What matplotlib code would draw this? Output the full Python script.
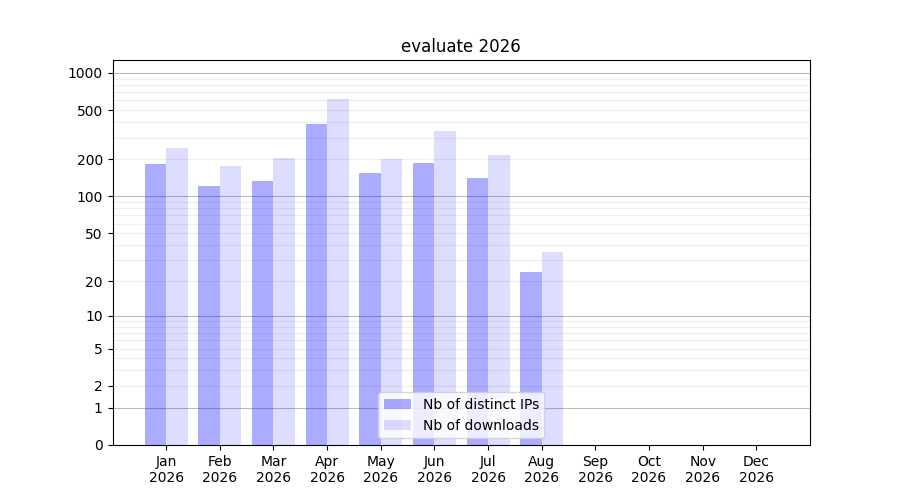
import numpy as np
import matplotlib
matplotlib.use("Agg")
import matplotlib.pyplot as plt

# Monthly stats
months = ["Jan", "Feb", "Mar", "Apr", "May", "Jun",
          "Jul", "Aug", "Sep", "Oct", "Nov", "Dec"]
year = 2026
distinct_ips = [184, 122, 134, 387, 155, 187, 141, 24, 0, 0, 0, 0]
downloads = [248, 177, 205, 616, 201, 340, 217, 35, 0, 0, 0, 0]

y_ticks = [0, 1, 2, 5, 10, 20, 50, 100, 200, 500, 1000]


# log10(1 + x) scale so that zero can be shown
def forward(v):
    return np.log10(1 + np.clip(v, 0, None))


def inverse(v):
    return 10 ** v - 1


fig, ax = plt.subplots(figsize=(9, 5), dpi=100)
ax.set_yscale("function", functions=(forward, inverse))

# grid lines: darker at decades, light for the others
for dec in [1, 10, 100, 1000]:
    ax.axhline(dec, color="#bbbbbb", lw=0.8, zorder=0)
    for m in range(2, 10):
        if dec * m < 1300:
            ax.axhline(dec * m, color="#eeeeee", lw=0.8, zorder=0)

x = np.arange(len(months))
ax.bar(x, distinct_ips, width=-0.4, align="edge", color="blue", alpha=0.33,
       label="Nb of distinct IPs", zorder=2)
ax.bar(x, downloads, width=0.4, align="edge", color="blue", alpha=0.135,
       label="Nb of downloads", zorder=2)

ax.set_xticks(x)
ax.set_xticklabels([f"{m}\n{year}" for m in months])
ax.set_xlim(-1, 12)

ax.set_yticks(y_ticks)
ax.set_yticklabels([str(t) for t in y_ticks])
ax.yaxis.set_minor_locator(matplotlib.ticker.NullLocator())
ax.set_ylim(0, 1272)

ax.set_title(f"evaluate {year}")
ax.legend(loc="lower center")

fig.savefig("out.png")
